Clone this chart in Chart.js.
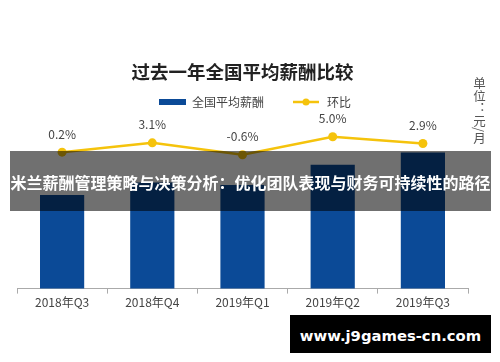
<!DOCTYPE html>
<html>
<head>
<meta charset="utf-8">
<script src="https://cdn.jsdelivr.net/npm/chart.js@4.4.1/dist/chart.umd.min.js"></script>
<style>
  body { margin: 0; background: #fff; }
  #wrap { position: relative; width: 500px; height: 362px; overflow: hidden; background: #fff; }
  #unit {
    position: absolute; left: 470px; top: 77px;
    writing-mode: vertical-rl; font: 12.5px 'Noto Sans CJK SC', sans-serif; color: #555;
  }
  #banner {
    position: absolute; left: 10px; top: 151px; width: 481px; height: 60px;
    background: rgba(0, 0, 0, 0.56); color: #fff;
    font: bold 16px 'Noto Sans CJK SC', sans-serif; white-space: nowrap;
    display: flex; align-items: center; justify-content: center; padding-top: 2px; box-sizing: border-box;
  }
  #mark {
    position: absolute; left: 290px; top: 315px; width: 201px; height: 38px;
    background: #000; color: #fff; font: bold 14.8px 'DejaVu Sans', sans-serif;
    display: flex; align-items: center; justify-content: center; padding-top: 3px; box-sizing: border-box;
  }
</style>
</head>
<body>
<div id="wrap">
  <canvas id="myChart" width="500" height="362"></canvas>
  <div id="unit">单位：元/月</div>
  <div id="banner">米兰薪酬管理策略与决策分析：优化团队表现与财务可持续性的路径</div>
  <div id="mark">www.j9games-cn.com</div>
</div>
<script>
const FONT = "'Noto Sans CJK SC', sans-serif";

// data
const quarters = ['2018年Q3', '2018年Q4', '2019年Q1', '2019年Q2', '2019年Q3'];
const salary = [7850, 8096, 8050, 8452, 8698];
const mom = [0.2, 3.1, -0.6, 5.0, 2.9];

const barColor = '#0b4a97';
const lineColor = '#f5c30c';

// legend icons
const barIcon = document.createElement('canvas');
barIcon.width = 52; barIcon.height = 6;
let c = barIcon.getContext('2d');
c.fillStyle = barColor;
c.fillRect(25, 0, 27, 6);

const lineIcon = document.createElement('canvas');
lineIcon.width = 52; lineIcon.height = 10;
c = lineIcon.getContext('2d');
c.strokeStyle = lineColor; c.lineWidth = 2.5;
c.beginPath(); c.moveTo(24, 5); c.lineTo(50, 5); c.stroke();
c.fillStyle = lineColor;
c.beginPath(); c.arc(37, 5, 3.5, 0, Math.PI * 2); c.fill();

const valueLabels = {
  id: 'valueLabels',
  afterDatasetsDraw(chart) {
    const ctx = chart.ctx;
    ctx.save();
    ctx.textAlign = 'center';
    ctx.textBaseline = 'middle';
    ctx.font = '12.5px ' + FONT;
    ctx.fillStyle = '#f2f5fa';
    chart.getDatasetMeta(0).data.forEach((b, i) => {
      ctx.fillText(salary[i], b.x, (b.y + b.base) / 2);
    });
    ctx.font = '12px ' + FONT;
    ctx.fillStyle = '#444';
    chart.getDatasetMeta(1).data.forEach((p, i) => {
      ctx.fillText(mom[i].toFixed(1) + '%', p.x, p.y - 18);
    });
    ctx.restore();
  }
};

const ctx = document.getElementById('myChart');

new Chart(ctx, {
  type: 'bar',
  data: {
    labels: quarters,
    datasets: [
      {
        label: '全国平均薪酬',
        data: salary,
        backgroundColor: barColor,
        categoryPercentage: 1,
        barPercentage: 0.49,
        yAxisID: 'y',
        order: 1
      },
      {
        type: 'line',
        label: '环比',
        data: mom,
        borderColor: lineColor,
        backgroundColor: lineColor,
        borderWidth: 2.5,
        pointRadius: 4.5,
        pointBackgroundColor: lineColor,
        pointBorderWidth: 0,
        tension: 0,
        yAxisID: 'y2',
        order: 0
      }
    ]
  },
  options: {
    responsive: false,
    animation: false,
    devicePixelRatio: 1,
    layout: { padding: { left: 17, right: 32, top: 0, bottom: 50 } },
    plugins: {
      tooltip: { enabled: false },
      title: {
        display: true,
        text: '过去一年全国平均薪酬比较',
        color: '#222',
        font: { family: FONT, size: 18.5, weight: 'bold', lineHeight: 1.2 },
        padding: { top: 60.4, bottom: 8.4 }
      },
      legend: {
        display: true,
        labels: {
          usePointStyle: true,
          pointStyleWidth: 52,
          padding: 5,
          color: '#444',
          font: { family: FONT, size: 12 },
          generateLabels: () => [
            { text: '全国平均薪酬', pointStyle: barIcon, fontColor: '#444', lineWidth: 0, datasetIndex: 0 },
            { text: '环比', pointStyle: lineIcon, fontColor: '#444', lineWidth: 0, datasetIndex: 1 }
          ]
        }
      }
    },
    scales: {
      x: {
        grid: { offset: true, drawOnChartArea: false, drawTicks: true, tickLength: 5, color: '#aaa' },
        border: { display: true, color: '#aaa', width: 1 },
        ticks: { color: '#444', font: { family: FONT, size: 12 }, padding: 2 }
      },
      y: { display: false, min: 5976, max: 9388 },
      y2: { display: false, position: 'right', min: -42.24, max: 10.83 }
    }
  },
  plugins: [valueLabels]
});
</script>
</body>
</html>
